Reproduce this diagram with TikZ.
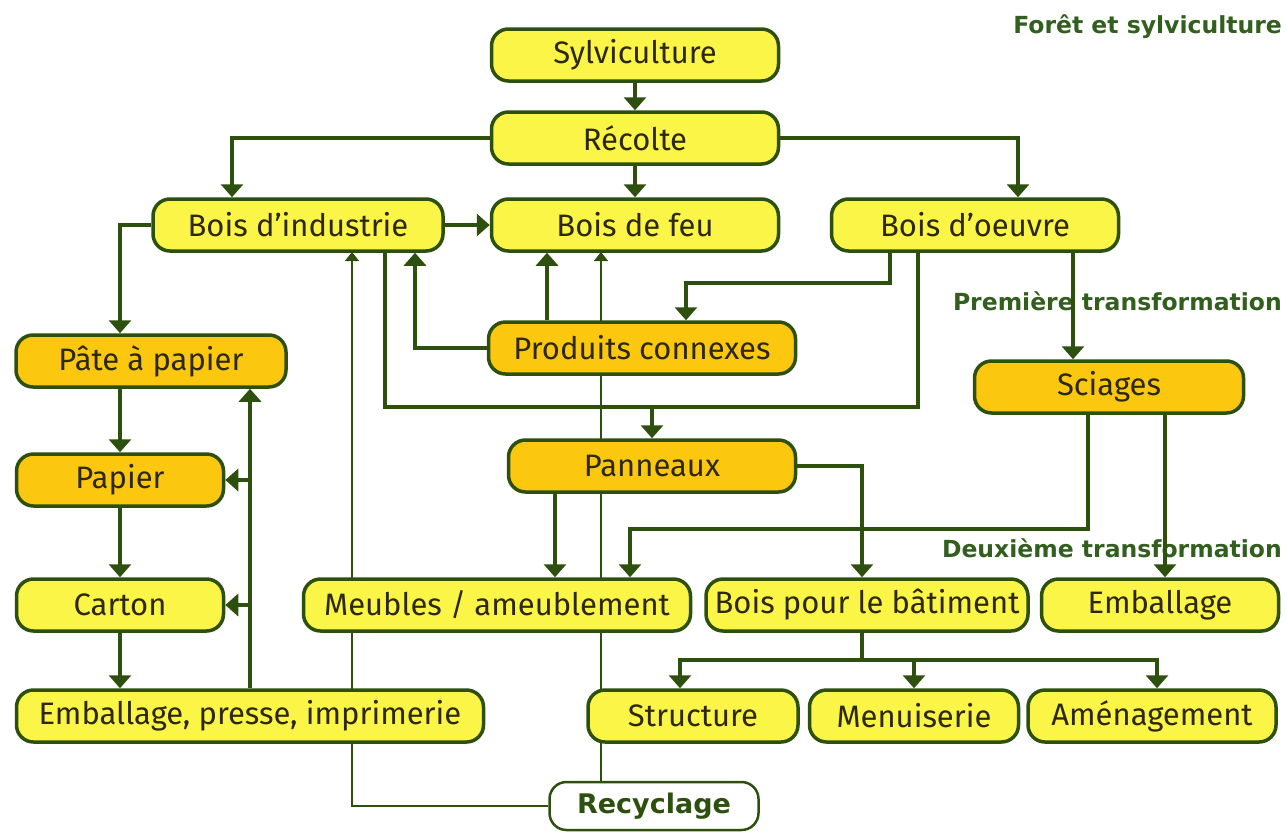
\documentclass[tikz,border=0pt]{standalone}
\usepackage{fontspec}
\setmainfont{Fira Sans}
\newfontfamily\labfont{DejaVu Sans}
\usetikzlibrary{arrows.meta,calc}
\definecolor{yel}{RGB}{250,245,70}
\definecolor{org}{RGB}{252,200,15}
\definecolor{dkg}{RGB}{45,80,15}
\definecolor{txt}{RGB}{45,40,10}
\definecolor{lbl}{RGB}{50,95,30}
\tikzset{
  box/.style={draw=dkg, line width=3.5pt, rounded corners=17pt, fill=yel, text=txt,
    minimum height=52pt, inner sep=0pt, font=\fontsize{31}{34}\selectfont},
  obox/.style={box, fill=org},
  wbox/.style={box, fill=white, line width=2.5pt, minimum height=48pt, text=dkg,
    font=\labfont\bfseries\fontsize{27}{30}\selectfont},
  arr/.style={draw=dkg, line width=3.5pt, -{Triangle[width=22pt,length=13pt]}},
  plain/.style={draw=dkg, line width=3.5pt},
  thinarr/.style={draw=dkg, line width=1.6pt, -{Triangle[width=14pt,length=9pt]}},
  lab/.style={anchor=east, text=lbl, font=\labfont\bfseries\fontsize{23.5}{26}\selectfont, inner sep=0pt}
}
\begin{document}
\begin{tikzpicture}[x=1pt,y=-1pt]
\useasboundingbox (0,0) rectangle (1287,833);
% labels
\node[lab] (l1) at (1282,27) {Forêt et sylviculture};
\node[lab] (l2) at (1282,301) {Première transformation};
\node[lab] (l3) at (1282,548) {Deuxième transformation};
% thin recycling lines first (behind boxes)
\node[wbox, minimum width=209pt] (recy) at (654,806) {Recyclage};
\coordinate (bindpos) at (298,225);
\coordinate (bfeupos) at (635,225);
\draw[thinarr] (recy.west) -| ($(bindpos)+(54,27)$);
\draw[thinarr] ($(recy.north)+(-53,0)$) -- ($(bfeupos)+(-34,27)$);
% nodes
\node[box, minimum width=287pt] (syl) at (635,55) {Sylviculture};
\node[box, minimum width=287pt] (rec) at (635,138) {Récolte};
\node[box, minimum width=290pt] (bind) at (bindpos) {Bois d'industrie};
\node[box, minimum width=287pt] (bfeu) at (bfeupos) {Bois de feu};
\node[box, minimum width=287pt] (boeu) at (975,225) {Bois d'oeuvre};
\node[obox, minimum width=270pt] (pate) at (151,361) {Pâte à papier};
\node[obox, minimum width=307pt] (pc) at (642,348) {Produits connexes};
\node[obox, minimum width=269pt] (sci) at (1109,387) {Sciages};
\node[obox, minimum width=207pt] (pap) at (120,480) {Papier};
\node[obox, minimum width=287pt] (pan) at (652,466) {Panneaux};
\node[box, minimum width=207pt] (car) at (120,605) {Carton};
\node[box, minimum width=387pt] (meu) at (497,605) {Meubles / ameublement};
\node[box, minimum width=322pt] (bpb) at (867,605) {Bois pour le bâtiment};
\node[box, minimum width=237pt] (emb) at (1160,605) {Emballage};
\node[box, minimum width=467pt] (epi) at (250,716) {Emballage, presse, imprimerie};
\node[box, minimum width=210pt] (str) at (693,716) {Structure};
\node[box, minimum width=209pt] (men) at (914,716) {Menuiserie};
\node[box, minimum width=248pt] (ame) at (1152,716) {Aménagement};
% connectors
\draw[arr] (syl.south) -- (rec.north);
\draw[arr] (rec.south) -- (bfeu.north);
\draw[arr] (rec.west) -| ([xshift=-66pt]bind.north);
\draw[arr] (rec.east) -| ([xshift=43pt]boeu.north);
\draw[arr] (bind.east) -- (bfeu.west);
\draw[arr] (bind.west) -| ([xshift=-31pt]pate.north);
\draw[arr] ([xshift=-85pt]boeu.south) -- ++(0,30) -| ([xshift=44pt]pc.north);
\draw[arr] ([xshift=-95pt]pc.north) -- ([xshift=-88pt]bfeu.south);
\draw[arr] (pc.west) -| ([xshift=117pt]bind.south);
\coordinate (j) at (652,407);
\draw[arr] ([xshift=87pt]bind.south) |- (j) -- (pan.north);
\draw[plain] ([xshift=-57pt]boeu.south) |- (j);
\draw[arr] ([xshift=98pt]boeu.south) -- ([xshift=-36pt]sci.north);
\draw[arr] ([xshift=-21pt]sci.south) -- ++(0,114) -| ([xshift=133pt]meu.north);
\draw[arr] ([xshift=56pt]sci.south) -- ([xshift=5pt]emb.north);
\draw[arr] ([xshift=-97pt]pan.south) -- ([xshift=58pt]meu.north);
\draw[arr] (pan.east) -| ([xshift=-5pt]bpb.north);
\coordinate (k) at (862,660);
\draw[plain] ([xshift=-5pt]bpb.south) -- (k);
\draw[arr] (k) -| ([xshift=-13pt]str.north);
\draw[arr] (k) -| (men.north);
\draw[arr] (k) -| ([xshift=5pt]ame.north);
\draw[arr] ([xshift=-31pt]pate.south) -- (pap.north);
\draw[arr] (pap.south) -- (car.north);
\draw[arr] (car.south) -- ([xshift=-130pt]epi.north);
\draw[arr] (epi.north) -- ([xshift=99pt]pate.south);
\draw[arr] (pap.east -| epi.north) -- (pap.east);
\draw[arr] (car.east -| epi.north) -- (car.east);
\end{tikzpicture}
\end{document}
